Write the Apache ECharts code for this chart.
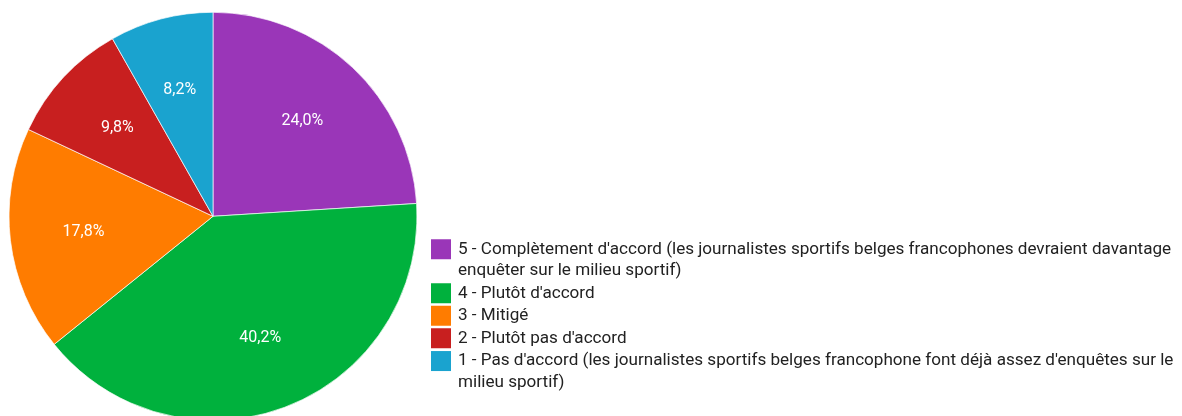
<!DOCTYPE html>
<html>
<head>
<meta charset="utf-8">
<script src="https://cdn.jsdelivr.net/npm/echarts@6/dist/echarts.min.js"></script>
<style>
  html, body { margin: 0; padding: 0; background: #ffffff; }
  #chart { width: 1182px; height: 416px; }
</style>
</head>
<body>
<div id="chart"></div>
<script>
// Answer categories (legend order, clockwise from 12 o'clock)
const categories = [
  "5 - Complètement d'accord (les journalistes sportifs belges francophones devraient davantage\nenquêter sur le milieu sportif)",
  "4 - Plutôt d'accord",
  "3 - Mitigé",
  "2 - Plutôt pas d'accord",
  "1 - Pas d'accord (les journalistes sportifs belges francophone font déjà assez d'enquêtes sur le\nmilieu sportif)"
];
// Share of respondents, in percent
const shares = [24.0, 40.2, 17.8, 9.8, 8.2];
// Slice colours
const sliceColors = ['#9a36b8', '#00b13d', '#ff7c00', '#c81f1f', '#1aa3cf'];

const pieData = categories.map((name, i) => ({ name: name, value: shares[i] }));
const fmtPct = v => v.toFixed(1).replace('.', ',') + '%';

const FONT = 'Roboto, "Noto Sans", sans-serif';
const LEG_FS = 17.1;
const LEG_LH = 21.5;

// Wrapped legend entries get an empty first line so that the icon
// sits level with the first line of text rather than between the two.
const legendText = name => (name.indexOf('\n') >= 0 ? '\n' + name : name);

const legendBase = {
  orient: 'vertical',
  left: 431,
  padding: 0,
  itemWidth: 20,
  itemHeight: 20,
  itemGap: 1,
  icon: 'rect',
  selectedMode: false,
  itemStyle: { borderWidth: 0 },
  formatter: legendText,
  textStyle: {
    fontFamily: FONT,
    fontSize: LEG_FS,
    color: '#222222',
    lineHeight: LEG_LH,
    padding: [0, 0, 0, 2]
  }
};

const chart = echarts.init(document.getElementById('chart'), null, { renderer: 'canvas' });

chart.setOption({
  animation: false,
  color: sliceColors,
  legend: [
    Object.assign({}, legendBase, { top: 217, data: categories.slice(0, 4) }),
    Object.assign({}, legendBase, { top: 328.8, data: categories.slice(4) })
  ],
  series: [
    {
      // coloured slices
      type: 'pie',
      center: [213, 216.3],
      radius: [0, 204],
      startAngle: 90,
      clockwise: true,
      silent: true,
      avoidLabelOverlap: false,
      itemStyle: { borderColor: 'rgba(255,255,255,0.85)', borderWidth: 0.8 },
      label: { show: false },
      labelLine: { show: false },
      emphasis: { disabled: true },
      data: pieData
    },
    {
      // transparent copy carrying the percentage labels further out
      type: 'pie',
      center: [213, 216.3],
      radius: [0, 255],
      startAngle: 90,
      clockwise: true,
      silent: true,
      avoidLabelOverlap: false,
      itemStyle: { color: 'rgba(0,0,0,0)', borderWidth: 0 },
      label: {
        show: true,
        position: 'inside',
        fontFamily: FONT,
        fontSize: 16,
        color: '#ffffff',
        formatter: p => fmtPct(p.value)
      },
      labelLine: { show: false },
      emphasis: { disabled: true },
      data: pieData
    }
  ]
});
</script>
</body>
</html>
